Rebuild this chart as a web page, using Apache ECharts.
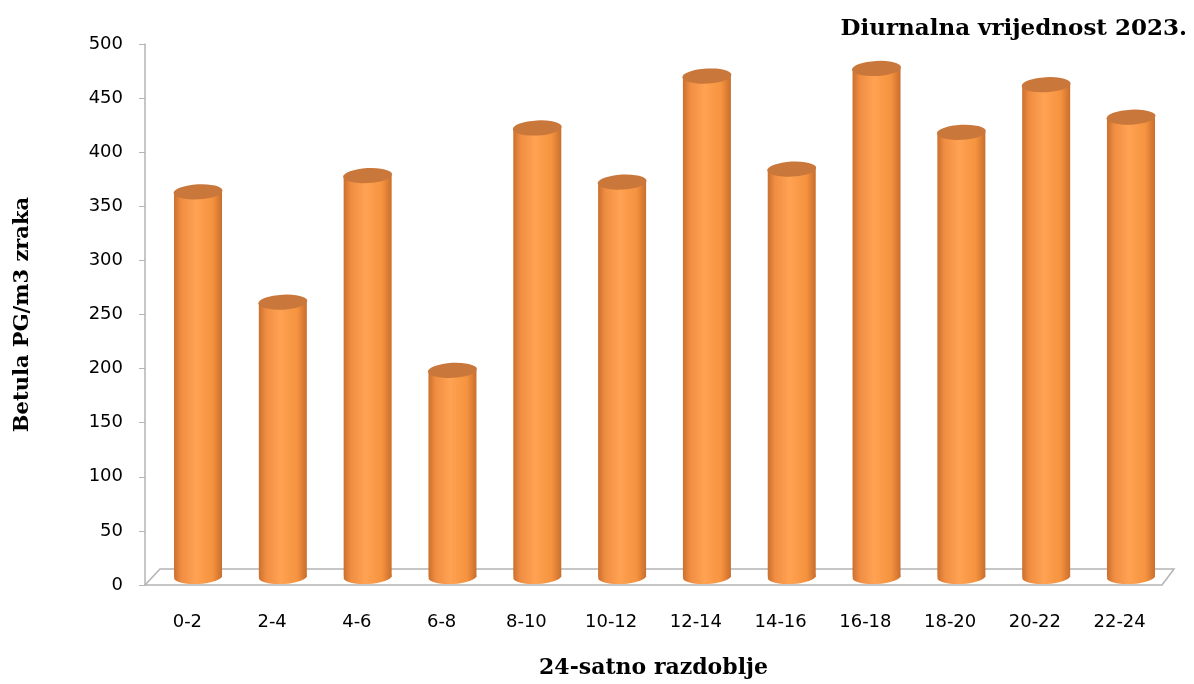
<!DOCTYPE html>
<html><head><meta charset="utf-8">
<script src="https://cdn.jsdelivr.net/npm/echarts@6/dist/echarts.min.js"></script>
<style>html,body{margin:0;padding:0;background:#fff}#c{width:1194px;height:684px}</style>
</head><body><div id="c"></div>
<script>
const categories = ['0-2','2-4','4-6','6-8','8-10','10-12','12-14','14-16','16-18','18-20','20-22','22-24'];
const values = [356, 254, 371, 191, 415, 365, 463, 377, 470, 411, 455, 425];
const yMin = 0, yMax = 500, yStep = 50;
const titleText = 'Diurnalna vrijednost 2023.';
const xName = '24-satno razdoblje';
const yName = 'Betula PG/m3 zraka';

const chart = echarts.init(document.getElementById('c'), null, {renderer: 'canvas'});
const bodyGrad = new echarts.graphic.LinearGradient(0, 0, 1, 0, [
  {offset: 0, color: '#cb702e'},
  {offset: 0.15, color: '#f08d42'},
  {offset: 0.45, color: '#ffa252'},
  {offset: 0.8, color: '#f5933f'},
  {offset: 1, color: '#c96e2c'}
]);
const sans = 'DejaVu Sans';
const serif = 'DejaVu Serif';
const frameColor = '#b4b4b4';

chart.setOption({
  animation: false,
  backgroundColor: '#fff',
  title: {
    text: titleText, right: 2, top: 13,
    textStyle: {fontFamily: serif, fontWeight: 'bold', fontSize: 23, color: '#000'}
  },
  grid: [
    {left: 145, right: 32, top: 44, bottom: 99},
    {left: 155.6, right: 20.6, top: 36, bottom: 107}
  ],
  xAxis: [
    {type: 'category', gridIndex: 0, data: categories,
     axisLine: {show: true, lineStyle: {color: frameColor, width: 1.5}},
     axisTick: {show: false},
     axisLabel: {margin: 28, fontFamily: sans, fontSize: 18, color: '#000'},
     splitLine: {show: false},
     name: xName, nameLocation: 'middle', nameGap: 72,
     nameTextStyle: {fontFamily: serif, fontWeight: 'bold', fontSize: 22, color: '#000'}},
    {type: 'category', gridIndex: 1, data: categories, show: false}
  ],
  yAxis: [
    {type: 'value', gridIndex: 0, min: yMin, max: yMax, interval: yStep,
     axisLine: {show: true, lineStyle: {color: frameColor, width: 1.5}},
     axisTick: {show: true, length: 6, lineStyle: {color: frameColor}},
     axisLabel: {margin: 22, fontFamily: sans, fontSize: 18, color: '#000'},
     splitLine: {show: false},
     name: yName, nameLocation: 'middle', nameGap: 112, nameRotate: 90,
     nameTextStyle: {fontFamily: serif, fontWeight: 'bold', fontSize: 21, color: '#000'}},
    {type: 'value', gridIndex: 1, min: yMin, max: yMax, interval: yStep, show: false}
  ],
  graphic: [
    {type: 'polyline', shape: {points: [[145, 585], [160, 569], [1174, 569], [1162, 585]]},
     style: {stroke: frameColor, lineWidth: 1.5, fill: null}, z: 0}
  ],
  series: [
    {type: 'pictorialBar', xAxisIndex: 1, yAxisIndex: 1, data: values,
     symbol: 'circle', symbolSize: [48, 14], symbolPosition: 'start', symbolOffset: [0, '50%'],
     symbolRotate: 3,
     itemStyle: {color: bodyGrad}, z: 1},
    {type: 'bar', xAxisIndex: 1, yAxisIndex: 1, data: values, barWidth: 48,
     itemStyle: {color: bodyGrad}, z: 2},
    {type: 'pictorialBar', xAxisIndex: 1, yAxisIndex: 1, data: values,
     symbol: 'circle', symbolSize: [49, 15], symbolPosition: 'end', symbolOffset: [0, '-50%'],
     symbolRotate: 3,
     itemStyle: {color: '#c9773a'}, z: 3}
  ]
});
</script></body></html>
